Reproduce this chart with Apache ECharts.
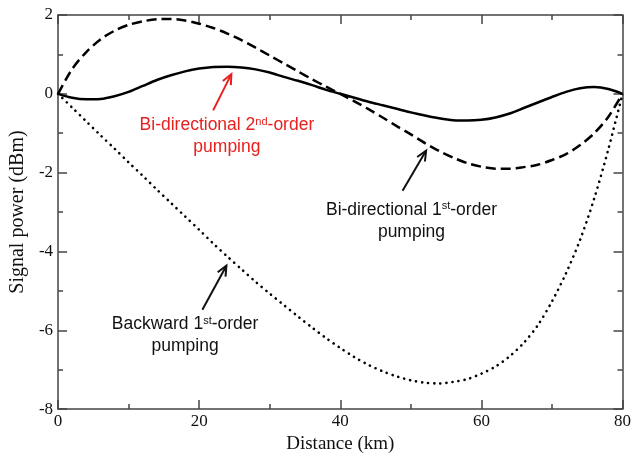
<!DOCTYPE html>
<html><head><meta charset="utf-8">
<script src="https://cdn.jsdelivr.net/npm/echarts@6/dist/echarts.min.js"></script>
<style>html,body{margin:0;padding:0;background:#fff}#c{width:634px;height:459px}</style>
</head><body><div id="c"></div>
<script>
// ---- data ----
const distanceKm = [0,2,4,6,8,10,12,14,16,18,20,22,24,26,28,30,32,34,36,38,40,
  42,44,46,48,50,52,54,56,58,60,62,64,66,68,70,72,74,76,78,80];
const biDir2nd = [0,-0.1,-0.14,-0.13,-0.06,0.05,0.2,0.35,0.47,0.57,0.64,0.68,0.69,0.67,0.62,0.54,0.43,0.33,0.22,0.1,0,
  -0.1,-0.2,-0.29,-0.38,-0.47,-0.55,-0.62,-0.67,-0.68,-0.66,-0.6,-0.5,-0.36,-0.22,-0.08,0.05,0.14,0.17,0.12,0];
const biDir1st = [0,0.63,1.06,1.38,1.6,1.75,1.84,1.89,1.9,1.86,1.78,1.67,1.53,1.36,1.17,0.97,0.77,0.57,0.37,0.18,0,
  -0.19,-0.39,-0.6,-0.82,-1.03,-1.25,-1.45,-1.62,-1.76,-1.85,-1.9,-1.9,-1.86,-1.8,-1.68,-1.53,-1.3,-1.0,-0.58,0];
const backward1st = [0,-0.35,-0.7,-1.05,-1.39,-1.74,-2.08,-2.43,-2.77,-3.11,-3.45,-3.8,-4.13,-4.45,-4.77,-5.07,-5.36,-5.65,-5.93,-6.2,-6.45,
  -6.68,-6.88,-7.04,-7.17,-7.27,-7.33,-7.35,-7.31,-7.24,-7.1,-6.92,-6.66,-6.32,-5.87,-5.27,-4.55,-3.7,-2.65,-1.4,0];
const xRange = [0, 80], xStep = 20;
const yRange = [-8, 2], yStep = 2;
const xTitle = 'Distance (km)';
const yTitle = 'Signal power (dBm)';
// annotations: text lines, text centre [km, dBm], arrow tail and head [km, dBm]
const annotations = [
  {lines: [['Bi-directional 2', 'nd', '-order'], ['pumping']], color: '#e8201e', at: [23.93, -1.08], tail: [21.98, -0.42], head: [24.56, 0.5]},
  {lines: [['Bi-directional 1', 'st', '-order'], ['pumping']], color: '#111', at: [50.09, -3.22], tail: [48.83, -2.46], head: [52.17, -1.44]},
  {lines: [['Backward 1', 'st', '-order'], ['pumping']], color: '#111', at: [18.0, -6.12], tail: [20.45, -5.48], head: [23.86, -4.36]}
];

const pairs = ys => distanceKm.map((x, i) => [x, ys[i]]);
const axisCol = '#444';
const serif = '"Liberation Serif", "Times New Roman", serif';
const sans = '"Liberation Sans", Arial, sans-serif';
const tickCommon = () => ({
  axisLine: {show: true, onZero: false, lineStyle: {color: axisCol, width: 1.5}},
  axisTick: {show: true, inside: true, length: 9, lineStyle: {color: axisCol, width: 1.5}},
  minorTick: {show: true, splitNumber: 2, length: 5, lineStyle: {color: axisCol, width: 1.5}},
  splitLine: {show: false}
});
const chart = echarts.init(document.getElementById('c'), null, {renderer: 'canvas'});
chart.setOption({
  animation: false,
  backgroundColor: '#fff',
  grid: {left: 52, right: 7, top: 15, bottom: 43},
  xAxis: [
    Object.assign({type: 'value', position: 'bottom', min: xRange[0], max: xRange[1], interval: xStep,
      name: xTitle, nameLocation: 'middle', nameGap: 13,
      nameTextStyle: {fontFamily: serif, fontSize: 19, color: '#111'},
      axisLabel: {fontFamily: serif, fontSize: 17, color: '#111', margin: 4}}, tickCommon()),
    Object.assign({type: 'value', position: 'top', min: xRange[0], max: xRange[1], interval: xStep,
      axisLabel: {show: false}}, tickCommon())
  ],
  yAxis: [
    Object.assign({type: 'value', position: 'left', min: yRange[0], max: yRange[1], interval: yStep,
      name: yTitle, nameLocation: 'middle', nameGap: 24, nameRotate: 90,
      nameTextStyle: {fontFamily: serif, fontSize: 20, color: '#111'},
      axisLabel: {fontFamily: serif, fontSize: 17, color: '#111', margin: 5}}, tickCommon()),
    Object.assign({type: 'value', position: 'right', min: yRange[0], max: yRange[1], interval: yStep,
      axisLabel: {show: false}}, tickCommon())
  ],
  series: [
    {type: 'line', name: 'Backward 1st-order', data: pairs(backward1st), smooth: 0.3, showSymbol: false,
      lineStyle: {color: '#000', width: 2.6, type: [0.1, 6], cap: 'round'}},
    {type: 'line', name: 'Bi-directional 1st-order', data: pairs(biDir1st), smooth: 0.3, showSymbol: false,
      lineStyle: {color: '#000', width: 2.5, type: [10, 5]}},
    {type: 'line', name: 'Bi-directional 2nd-order', data: pairs(biDir2nd), smooth: 0.3, showSymbol: false,
      lineStyle: {color: '#000', width: 2.5}}
  ]
});

function arrowGraphic(p0, p1, color) {
  const ang = Math.atan2(p1[1] - p0[1], p1[0] - p0[0]);
  const L = 11, a = 0.42;
  const h1 = [p1[0] - L * Math.cos(ang - a), p1[1] - L * Math.sin(ang - a)];
  const h2 = [p1[0] - L * Math.cos(ang + a), p1[1] - L * Math.sin(ang + a)];
  return [
    {type: 'line', shape: {x1: p0[0], y1: p0[1], x2: p1[0], y2: p1[1]}, style: {stroke: color, lineWidth: 2}},
    {type: 'polyline', shape: {points: [h1, p1, h2]}, style: {stroke: color, lineWidth: 2, fill: null}}
  ];
}
const g = [];
annotations.forEach(an => {
  const c = chart.convertToPixel({gridIndex: 0}, an.at);
  const rich = {
    n: {fontFamily: sans, fontSize: 17.5, fill: an.color, lineHeight: 22},
    s: {fontFamily: sans, fontSize: 11, fill: an.color, lineHeight: 22, padding: [0, 0, 7, 0]}
  };
  const txt = an.lines.map(l => l.map((t, i) => i === 1 ? '{s|' + t + '}' : '{n|' + t + '}').join('')).join('\n');
  g.push({type: 'text', x: c[0], y: c[1],
    style: {text: txt, rich: rich, align: 'center', verticalAlign: 'middle', fill: an.color, fontFamily: sans, fontSize: 17.5}});
  const t = chart.convertToPixel({gridIndex: 0}, an.tail);
  const h = chart.convertToPixel({gridIndex: 0}, an.head);
  arrowGraphic(t, h, an.color).forEach(e => g.push(e));
});
chart.setOption({graphic: g});
</script></body></html>
